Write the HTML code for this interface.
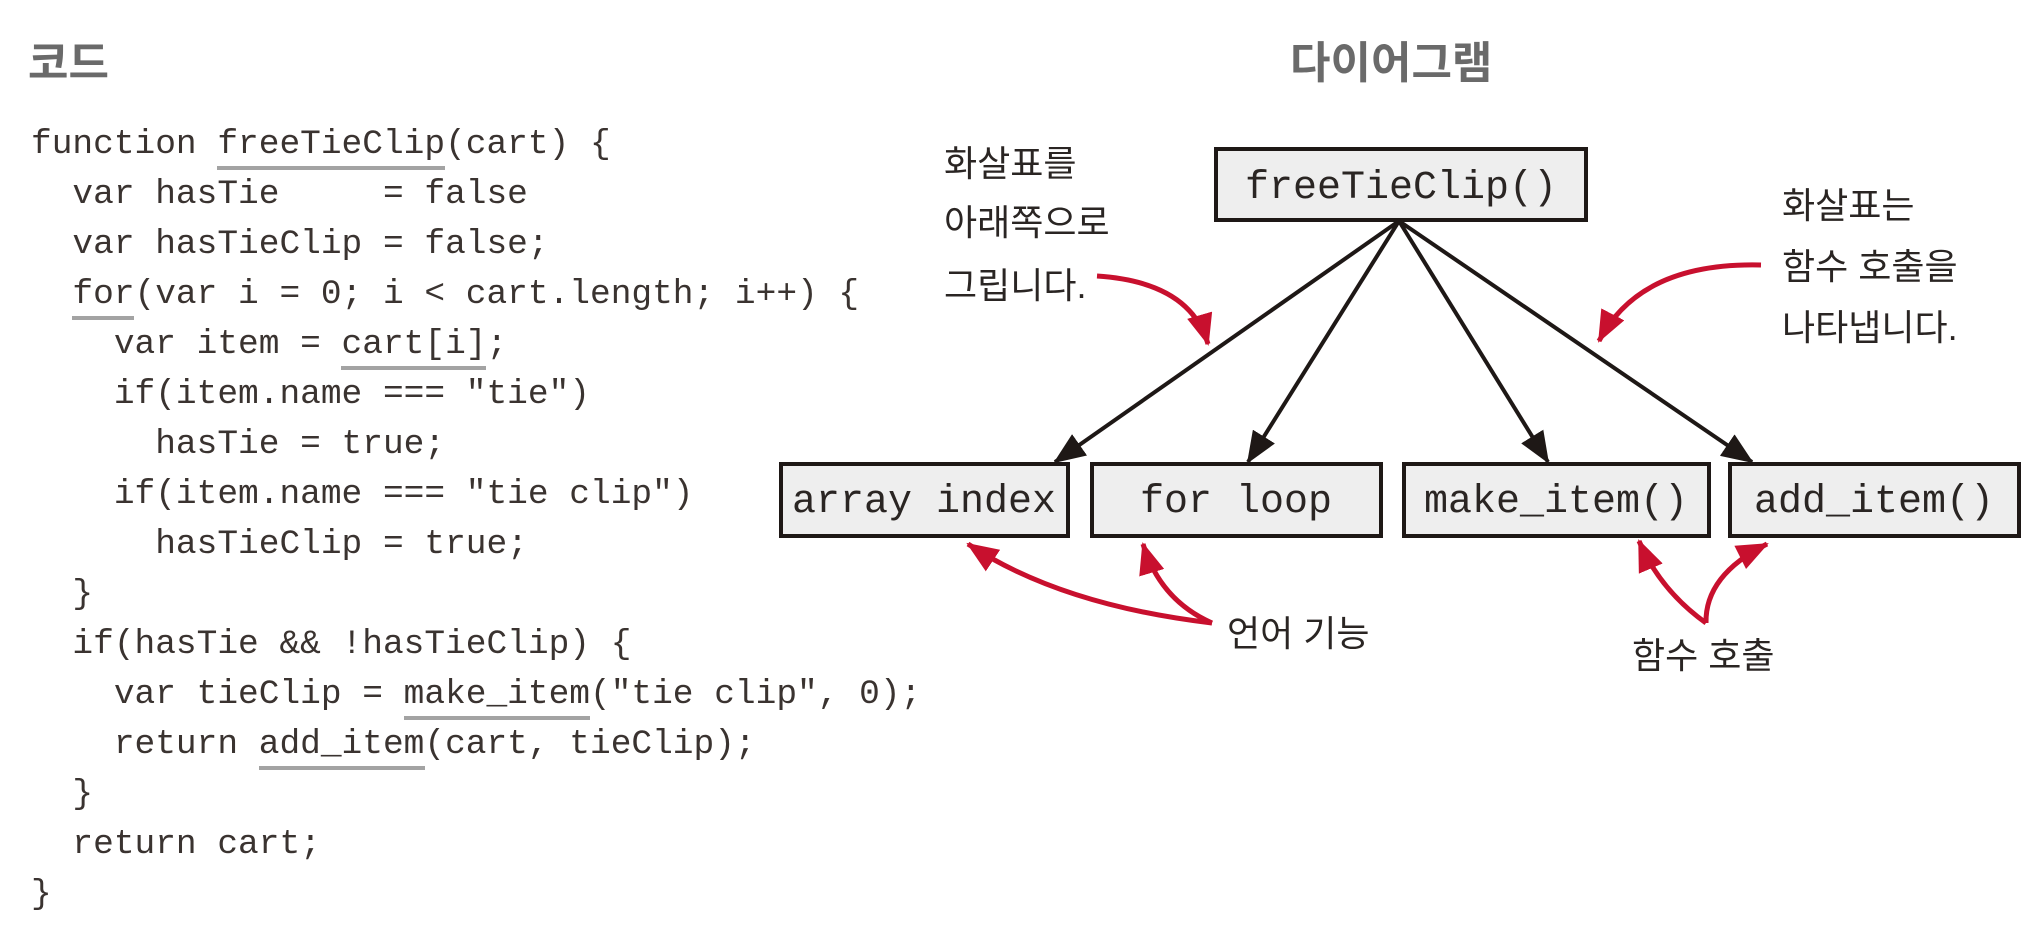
<!DOCTYPE html>
<html><head><meta charset="utf-8"><style>
html,body{margin:0;padding:0;background:#fff;}
svg{display:block;}
.code{font-family:"Liberation Mono",monospace;font-size:34.5px;fill:#3a3330;white-space:pre;}
.code text{white-space:pre;}
.box{font-family:"Liberation Mono",monospace;font-size:40px;fill:#2a2523;}
.ko{font-family:"Liberation Sans","Noto Sans CJK KR",sans-serif;font-size:36px;fill:#2a2523;}
.title{font-family:"Liberation Sans","Noto Sans CJK KR",sans-serif;font-size:44px;font-weight:bold;fill:#6a6a6a;}
</style></head><body>
<svg width="2040" height="952" viewBox="0 0 2040 952" xmlns="http://www.w3.org/2000/svg">
<defs>
<marker id="ab" markerUnits="userSpaceOnUse" markerWidth="34" markerHeight="26" refX="30" refY="13" orient="auto"><path d="M0,0 L32,13 L0,26 Z" fill="#1e1816"/></marker>
<marker id="ar" markerUnits="userSpaceOnUse" markerWidth="34" markerHeight="26" refX="30" refY="13" orient="auto"><path d="M0,0 L32,13 L0,26 Z" fill="#c8102e"/></marker>
</defs>
<text class="title" x="28" y="78">코드</text>
<text class="title" x="1290" y="78">다이어그램</text>

<g class="code">
<text x="31" y="153">function freeTieClip(cart) {</text>
<text x="31" y="203">  var hasTie     = false</text>
<text x="31" y="253">  var hasTieClip = false;</text>
<text x="31" y="303">  for(var i = 0; i &lt; cart.length; i++) {</text>
<text x="31" y="353">    var item = cart[i];</text>
<text x="31" y="403">    if(item.name === "tie")</text>
<text x="31" y="453">      hasTie = true;</text>
<text x="31" y="503">    if(item.name === "tie clip")</text>
<text x="31" y="553">      hasTieClip = true;</text>
<text x="31" y="603">  }</text>
<text x="31" y="653">  if(hasTie &amp;&amp; !hasTieClip) {</text>
<text x="31" y="703">    var tieClip = make_item("tie clip", 0);</text>
<text x="31" y="753">    return add_item(cart, tieClip);</text>
<text x="31" y="803">  }</text>
<text x="31" y="853">  return cart;</text>
<text x="31" y="903">}</text>
</g>
<g fill="#a3a3a3">
<rect x="217" y="166" width="228" height="4"/>
<rect x="72" y="316" width="62" height="4"/>
<rect x="341" y="366" width="145" height="4"/>
<rect x="404" y="716" width="186" height="4"/>
<rect x="259" y="766" width="166" height="4"/>
</g>

<g fill="#eeeeee" stroke="#1e1816" stroke-width="4">
<rect x="1216" y="149" width="370" height="71"/>
<rect x="781" y="464" width="287" height="72"/>
<rect x="1092" y="464" width="289" height="72"/>
<rect x="1404" y="464" width="305" height="72"/>
<rect x="1730" y="464" width="289" height="72"/>
</g>
<g class="box" text-anchor="middle">
<text x="1401" y="198">freeTieClip()</text>
<text x="924" y="512">array index</text>
<text x="1236" y="512">for loop</text>
<text x="1556" y="512">make_item()</text>
<text x="1874" y="512">add_item()</text>
</g>

<g stroke="#1e1816" stroke-width="4" fill="none">
<line x1="1399" y1="221" x2="1055" y2="462" marker-end="url(#ab)"/>
<line x1="1399" y1="221" x2="1248" y2="462" marker-end="url(#ab)"/>
<line x1="1399" y1="221" x2="1548" y2="462" marker-end="url(#ab)"/>
<line x1="1399" y1="221" x2="1752" y2="462" marker-end="url(#ab)"/>
</g>

<g class="ko">
<text x="944" y="176">화살표를</text>
<text x="944" y="235">아래쪽으로</text>
<text x="944" y="298">그립니다.</text>
<text x="1782" y="218">화살표는</text>
<text x="1782" y="279">함수 호출을</text>
<text x="1782" y="340">나타냅니다.</text>
<text x="1227" y="646">언어 기능</text>
<text x="1632" y="668">함수 호출</text>
</g>

<g stroke="#c8102e" stroke-width="5" fill="none">
<path d="M1097,276 Q1190,282 1208,344" marker-end="url(#ar)"/>
<path d="M1761,265 Q1640,262 1599,341" marker-end="url(#ar)"/>
<path d="M1212,623 Q1060,605 968,544" marker-end="url(#ar)"/>
<path d="M1212,623 Q1160,600 1143,544" marker-end="url(#ar)"/>
<path d="M1706,623 Q1660,590 1639,541" marker-end="url(#ar)"/>
<path d="M1706,623 Q1705,575 1767,544" marker-end="url(#ar)"/>
</g>
</svg>
</body></html>
